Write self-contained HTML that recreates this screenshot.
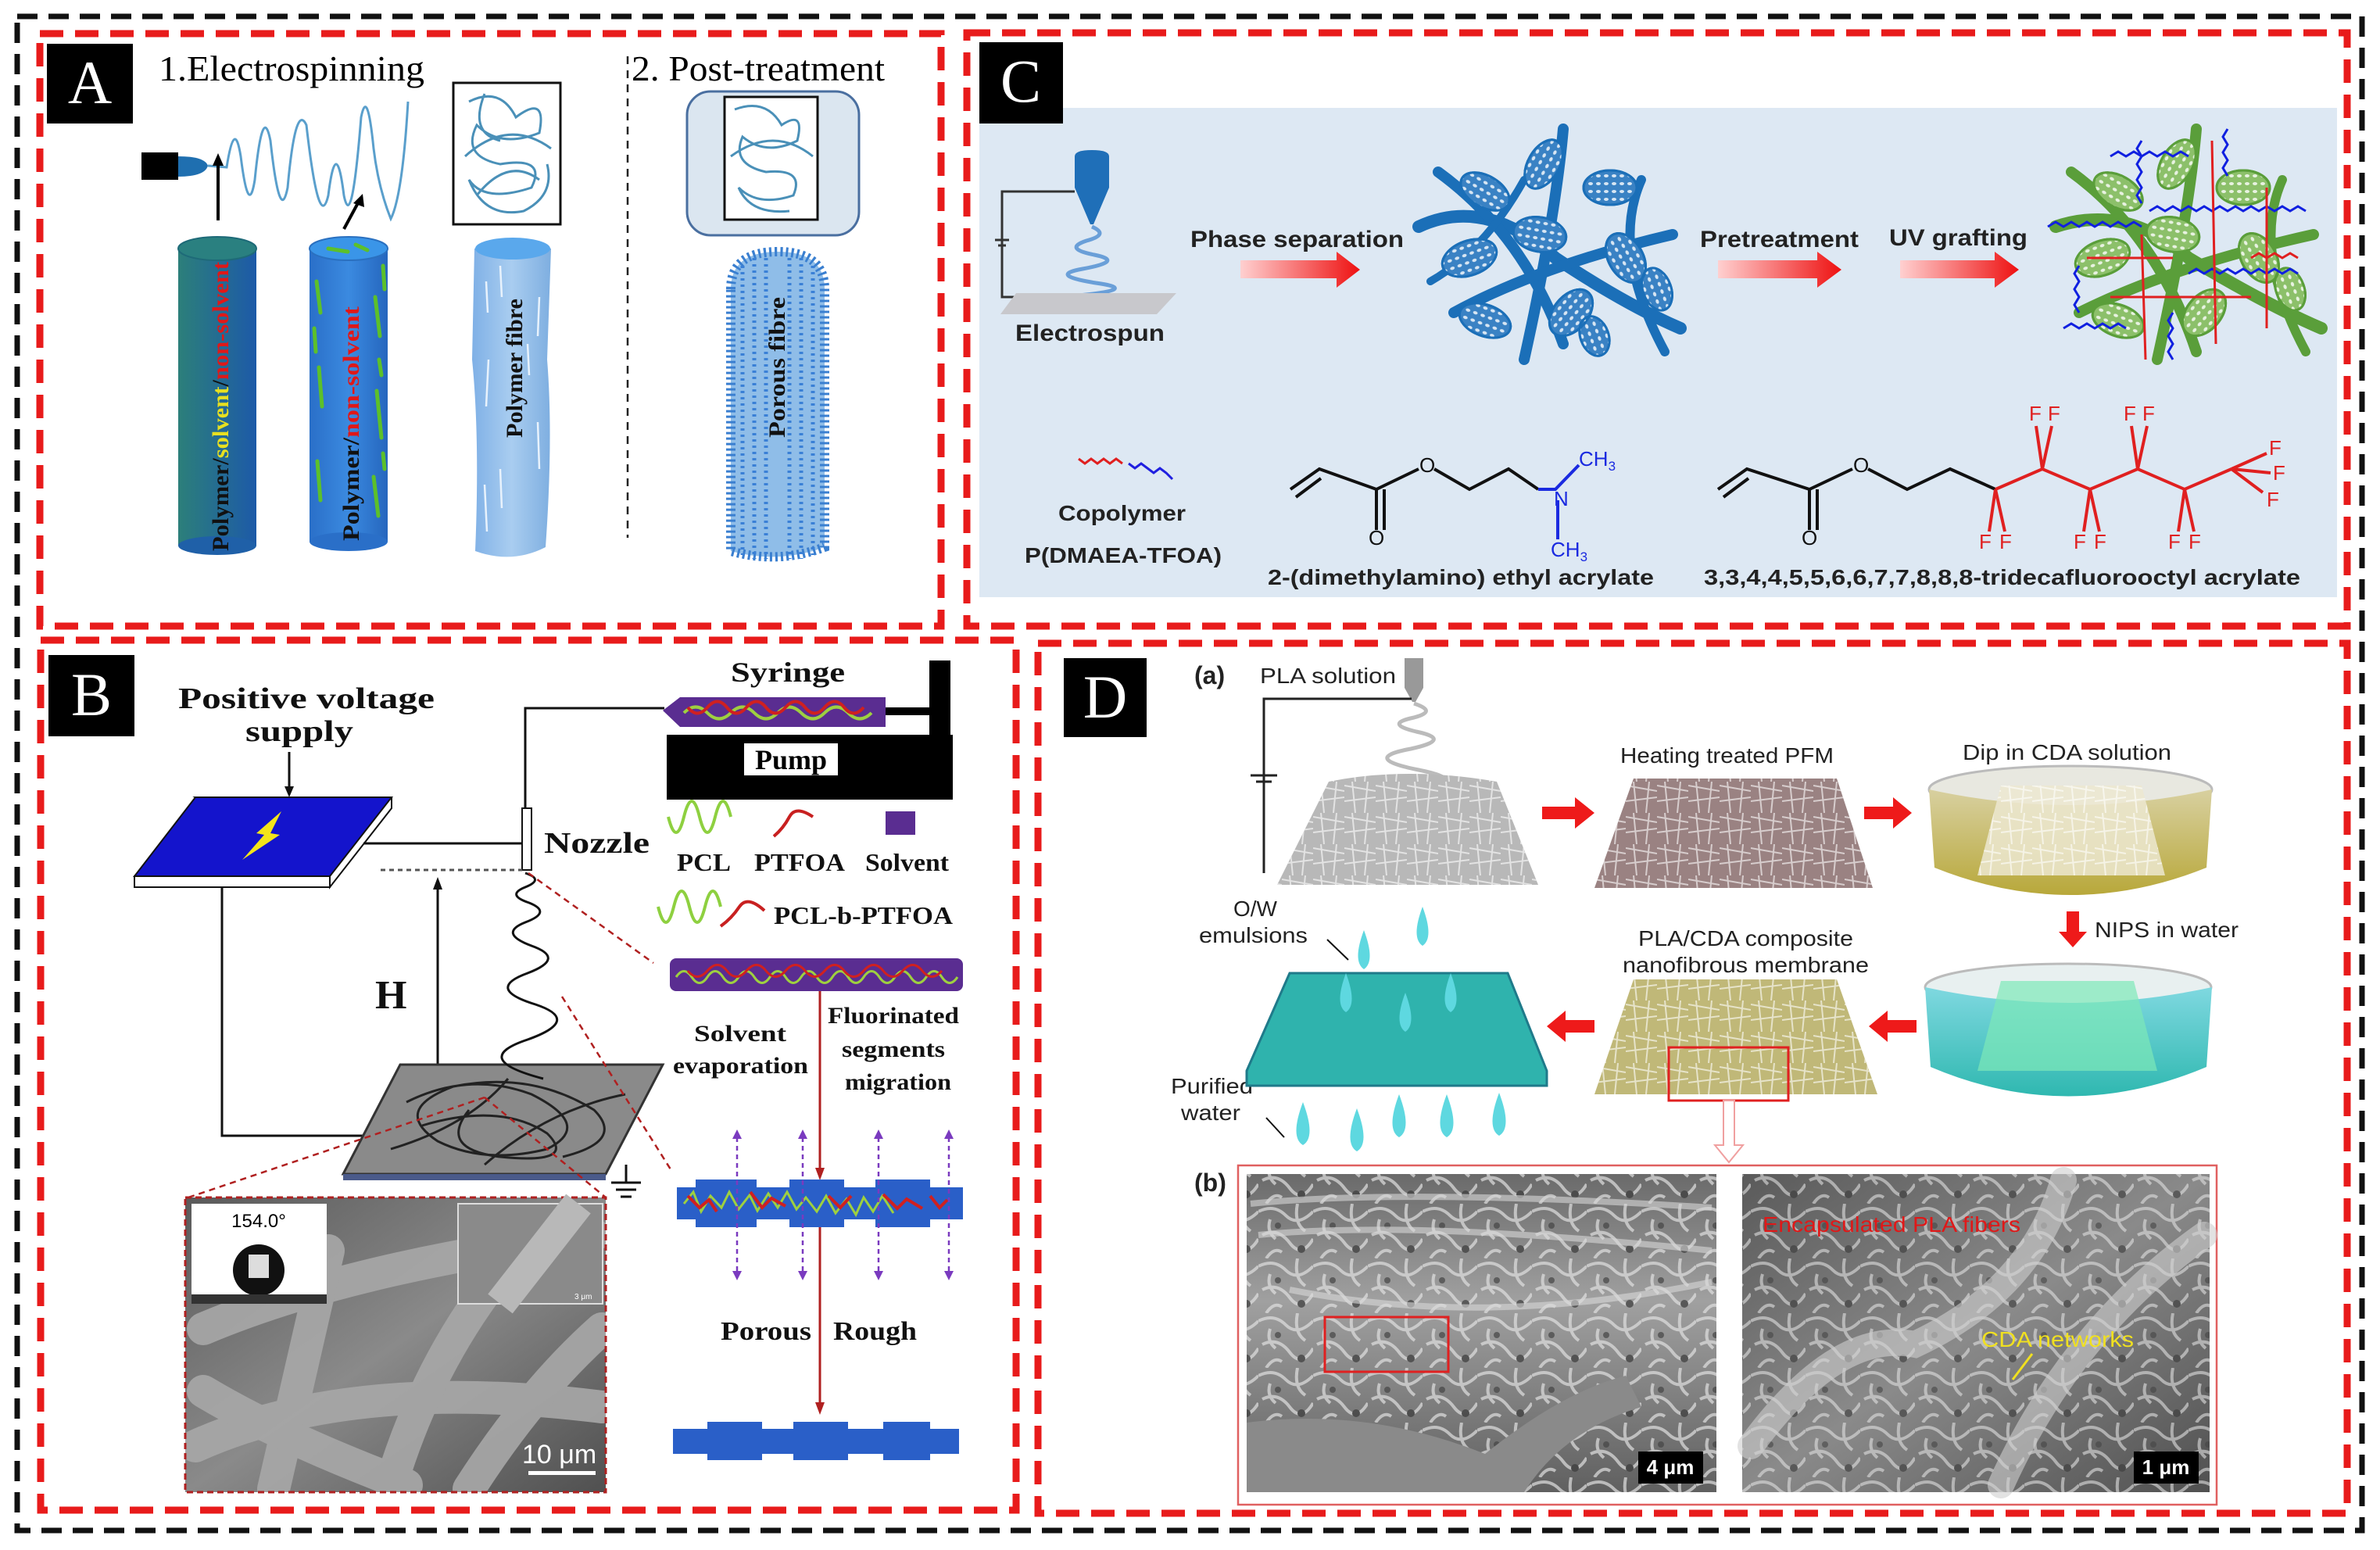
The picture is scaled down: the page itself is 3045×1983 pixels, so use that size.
<!DOCTYPE html>
<html><head><meta charset="utf-8"><style>html,body{margin:0;padding:0;background:#fff}svg{display:block}</style></head><body>
<svg width="3045" height="1983" viewBox="0 0 3045 1983" xmlns="http://www.w3.org/2000/svg">
<defs>
<linearGradient id="cyl1" x1="0" x2="1"><stop offset="0" stop-color="#2c7f7a"/><stop offset="1" stop-color="#1d5aa8"/></linearGradient>
<linearGradient id="cyl2" x1="0" x2="1"><stop offset="0" stop-color="#2a6fc8"/><stop offset="0.5" stop-color="#3b8ae0"/><stop offset="1" stop-color="#2566be"/></linearGradient>
<linearGradient id="cyl3" x1="0" x2="1"><stop offset="0" stop-color="#7fb0e6"/><stop offset="0.5" stop-color="#a9cdf0"/><stop offset="1" stop-color="#7eaee0"/></linearGradient>
<linearGradient id="rarr" x1="0" x2="1"><stop offset="0" stop-color="#ffd0d0"/><stop offset="1" stop-color="#ee1111"/></linearGradient>
<linearGradient id="sem" x1="0" y1="0" x2="1" y2="1"><stop offset="0" stop-color="#5a5a5a"/><stop offset="0.5" stop-color="#8a8a8a"/><stop offset="1" stop-color="#505050"/></linearGradient>
<linearGradient id="sem2" x1="0" y1="0" x2="0" y2="1"><stop offset="0" stop-color="#6a6a6a"/><stop offset="0.4" stop-color="#a0a0a0"/><stop offset="1" stop-color="#606060"/></linearGradient>
<linearGradient id="dishY" x1="0" y1="0" x2="0" y2="1"><stop offset="0" stop-color="#d8d0a0"/><stop offset="1" stop-color="#b8a83a"/></linearGradient>
<linearGradient id="dishT" x1="0" y1="0" x2="0" y2="1"><stop offset="0" stop-color="#7fd8e0"/><stop offset="1" stop-color="#2fb8b0"/></linearGradient>
<pattern id="tex" width="70" height="70" patternUnits="userSpaceOnUse">
<path d="M0 10 Q20 0 35 15 T70 10 M5 40 Q25 30 40 50 T70 45 M10 70 Q20 55 30 62 M50 0 Q45 25 60 35 M15 20 Q10 35 22 45" fill="none" stroke="#e0e0e0" stroke-width="4"/>
<circle cx="55" cy="58" r="5" fill="#3a3a3a"/><circle cx="25" cy="28" r="4" fill="#444"/>
</pattern>
<pattern id="dots" width="10" height="10" patternUnits="userSpaceOnUse"><ellipse cx="5" cy="5" rx="3" ry="2" fill="#fff" opacity="0.8"/></pattern>
<pattern id="fib" width="40" height="40" patternUnits="userSpaceOnUse"><path d="M0 5 L40 12 M0 25 L40 20 M10 0 L14 40 M30 0 L26 40" stroke="#fff" stroke-width="2" opacity="0.6"/></pattern>
<clipPath id="clipB"><rect x="237" y="1532" width="538" height="377"/></clipPath>
</defs>
<rect width="3045" height="1983" fill="#fff"/>

<rect x="22" y="21" width="3000" height="1937" fill="none" stroke="#111" stroke-width="7" stroke-dasharray="26 14"/>
<g fill="none" stroke="#e81b1b" stroke-width="9" stroke-dasharray="30 15">
<rect x="51" y="43" width="1153" height="758"/>
<rect x="1237" y="42" width="1766" height="759"/>
<rect x="52" y="819" width="1248" height="1113"/>
<rect x="1328" y="823" width="1675" height="1113"/>
</g>

<!-- ===== Panel A ===== -->
<rect x="60" y="56" width="110" height="102" fill="#000"/>
<text x="115" y="132" font-family="Liberation Serif, serif" font-size="78" fill="#fff" text-anchor="middle">A</text>
<text x="203" y="103" font-family="Liberation Serif, serif" font-size="46" textLength="340" lengthAdjust="spacingAndGlyphs">1.Electrospinning</text>
<text x="808" y="103" font-family="Liberation Serif, serif" font-size="46" textLength="324" lengthAdjust="spacingAndGlyphs">2. Post-treatment</text>
<line x1="803" y1="72" x2="803" y2="688" stroke="#222" stroke-width="2.5" stroke-dasharray="10 8"/>
<rect x="181" y="195" width="47" height="35" fill="#000"/>
<path d="M228 200 Q262 200 266 212 Q262 226 228 226Z" fill="#1f6fb0"/>
<path d="M266 212 L290 214 Q300 150 308 200 Q318 280 326 230 Q336 130 346 180 Q358 290 368 240 Q378 130 392 160 Q408 300 420 250 Q430 170 440 250 Q450 300 462 150 Q470 110 478 190 Q484 240 500 280 Q515 250 522 130" fill="none" stroke="#5a9fcc" stroke-width="3"/>
<line x1="279" y1="282" x2="279" y2="205" stroke="#000" stroke-width="4"/>
<path d="M279 196 L272 212 L286 212Z" fill="#000"/>
<line x1="440" y1="293" x2="460" y2="256" stroke="#000" stroke-width="4"/>
<path d="M464 248 L452 260 L466 265Z" fill="#000"/>
<rect x="580" y="106" width="137" height="181" fill="#fff" stroke="#111" stroke-width="3"/>
<path d="M600 130 Q640 110 660 150 Q700 120 690 170 Q640 190 610 160 Q590 200 640 210 Q700 200 680 240 Q620 260 600 230 Q620 280 670 270 Q710 250 700 210 M610 250 Q650 200 690 230 M595 200 Q650 150 705 190 M620 120 Q600 170 640 180" fill="none" stroke="#4a90b8" stroke-width="3"/>
<rect x="228" y="318" width="100" height="380" fill="url(#cyl1)"/>
<ellipse cx="278" cy="318" rx="50" ry="15" fill="#2a8080" stroke="#1e6a78" stroke-width="2"/>
<ellipse cx="278" cy="698" rx="50" ry="12" fill="#1f60a8"/>
<text transform="translate(292 705) rotate(-90)" font-family="Liberation Serif, serif" font-weight="bold" font-size="30" textLength="370" lengthAdjust="spacingAndGlyphs"><tspan fill="#111">Polymer/</tspan><tspan fill="#e8e020">solvent</tspan><tspan fill="#111">/</tspan><tspan fill="#e01818">non-solvent</tspan></text>
<rect x="396" y="318" width="100" height="375" fill="url(#cyl2)"/>
<ellipse cx="446" cy="318" rx="50" ry="15" fill="#3a95e8" stroke="#2a70c0" stroke-width="2"/>
<ellipse cx="446" cy="693" rx="50" ry="12" fill="#2a6fc8"/>
<g stroke="#5cc02a" stroke-width="5" stroke-linecap="round">
<line x1="405" y1="360" x2="410" y2="400"/><line x1="480" y1="380" x2="486" y2="430"/><line x1="408" y1="470" x2="412" y2="520"/><line x1="482" y1="500" x2="488" y2="560"/><line x1="406" y1="590" x2="410" y2="640"/><line x1="478" y1="610" x2="484" y2="660"/><line x1="420" y1="318" x2="445" y2="322"/><line x1="455" y1="313" x2="470" y2="320"/><line x1="490" y1="340" x2="492" y2="370"/><line x1="402" y1="420" x2="404" y2="450"/><line x1="485" y1="460" x2="488" y2="480"/><line x1="490" y1="580" x2="492" y2="600"/></g>
<text transform="translate(459 692) rotate(-90)" font-family="Liberation Serif, serif" font-weight="bold" font-size="30" textLength="300" lengthAdjust="spacingAndGlyphs"><tspan fill="#111">Polymer/</tspan><tspan fill="#e01818">non-solvent</tspan></text>
<path d="M607 318 Q655 300 705 318 L700 460 Q708 560 698 700 Q655 722 608 705 Q614 560 604 460Z" fill="url(#cyl3)"/>
<ellipse cx="656" cy="318" rx="48" ry="14" fill="#5aa8ec"/>
<g stroke="#e8f2fc" stroke-width="2.5"><line x1="622" y1="360" x2="624" y2="400"/><line x1="690" y1="380" x2="688" y2="430"/><line x1="625" y1="460" x2="622" y2="520"/><line x1="688" y1="540" x2="690" y2="600"/><line x1="620" y1="620" x2="623" y2="680"/><line x1="640" y1="340" x2="642" y2="380"/><line x1="675" y1="440" x2="677" y2="480"/><line x1="640" y1="600" x2="642" y2="650"/></g>
<text transform="translate(668 560) rotate(-90)" font-family="Liberation Serif, serif" font-weight="bold" font-size="30" textLength="178" lengthAdjust="spacingAndGlyphs" fill="#111">Polymer fibre</text>
<rect x="879" y="117" width="220" height="184" rx="30" fill="#dbe6f0" stroke="#4a6fa0" stroke-width="3"/>
<rect x="927" y="124" width="119" height="157" fill="#fff" stroke="#111" stroke-width="3"/>
<path d="M940 140 Q980 125 1000 160 Q1030 140 1020 180 Q980 200 950 175 Q935 210 980 220 Q1030 215 1015 250 Q970 265 945 240 Q960 275 1010 270 M935 200 Q990 160 1040 200" fill="none" stroke="#4a90b8" stroke-width="3"/>
<path d="M935 370 Q935 322 995 322 Q1055 322 1055 370 L1055 700 Q995 722 935 705Z" fill="#8fbde8" stroke="#3a7fd0" stroke-width="12" stroke-dasharray="3 4"/>
<g stroke="#3a80d6" stroke-width="5" stroke-dasharray="3 5"><line x1="950" y1="340" x2="950" y2="710"/><line x1="965" y1="330" x2="965" y2="715"/><line x1="980" y1="330" x2="980" y2="715"/><line x1="1010" y1="330" x2="1010" y2="715"/><line x1="1025" y1="330" x2="1025" y2="715"/><line x1="1040" y1="340" x2="1040" y2="710"/></g>
<text transform="translate(1004 560) rotate(-90)" font-family="Liberation Serif, serif" font-weight="bold" font-size="30" textLength="180" lengthAdjust="spacingAndGlyphs" fill="#111">Porous fibre</text>

<!-- ===== Panel C ===== -->
<rect x="1253" y="138" width="1737" height="626" fill="#dde8f3"/>
<rect x="1253" y="54" width="107" height="104" fill="#000"/>
<text x="1306" y="130" font-family="Liberation Serif, serif" font-size="78" fill="#fff" text-anchor="middle">C</text>
<path d="M1375 200 Q1375 192 1397 192 Q1419 192 1419 200 L1419 240 L1399 287 L1395 287 L1375 240Z" fill="#1f6fb8"/>
<polyline points="1375,245 1282,245 1282,380 1300,380" fill="none" stroke="#333" stroke-width="3"/>
<line x1="1273" y1="307" x2="1291" y2="307" stroke="#333" stroke-width="3"/><line x1="1277" y1="314" x2="1287" y2="314" stroke="#333" stroke-width="3"/>
<path d="M1397 290 Q1420 300 1390 308 Q1360 318 1400 326 Q1440 334 1385 344 Q1340 352 1402 362 Q1460 370 1380 378" fill="none" stroke="#6a9fd8" stroke-width="5"/>
<path d="M1300 375 L1505 375 L1480 402 L1280 402Z" fill="#c8c8cc"/>
<text x="1299" y="436" font-family="Liberation Sans, sans-serif" font-weight="bold" font-size="30" fill="#222" textLength="191" lengthAdjust="spacingAndGlyphs">Electrospun</text>
<text x="1523" y="316" font-family="Liberation Sans, sans-serif" font-weight="bold" font-size="30" fill="#222" textLength="273" lengthAdjust="spacingAndGlyphs">Phase separation</text>
<text x="2175" y="316" font-family="Liberation Sans, sans-serif" font-weight="bold" font-size="30" fill="#222" textLength="203" lengthAdjust="spacingAndGlyphs">Pretreatment</text>
<text x="2417" y="314" font-family="Liberation Sans, sans-serif" font-weight="bold" font-size="30" fill="#222" textLength="177" lengthAdjust="spacingAndGlyphs">UV grafting</text>
<g fill="url(#rarr)">
<path d="M1587 333 L1710 333 L1710 322 L1740 345 L1710 368 L1710 356 L1587 356Z"/>
<path d="M2198 333 L2325 333 L2325 322 L2356 345 L2325 368 L2325 356 L2198 356Z"/>
<path d="M2431 333 L2552 333 L2552 322 L2583 345 L2552 368 L2552 356 L2431 356Z"/>
</g>
<g stroke="#1b6fb8" stroke-linecap="round" fill="none">
<path d="M1815 290 Q1900 250 1990 330 Q2080 390 2150 420" stroke-width="16"/>
<path d="M1840 220 Q1950 300 2000 440" stroke-width="14"/>
<path d="M2000 165 Q1990 280 1950 460" stroke-width="14"/>
<path d="M1860 400 Q1970 340 2140 300" stroke-width="14"/>
<path d="M2100 230 Q2060 320 2130 450" stroke-width="12"/>
<path d="M1830 360 Q1900 320 1950 230" stroke-width="10"/>
</g>
<g stroke="#1b6fb8" stroke-width="3">
<g fill="#3a82c4">
<ellipse cx="1900" cy="245" rx="34" ry="20" transform="rotate(30 1900 245)"/>
<ellipse cx="1975" cy="210" rx="34" ry="20" transform="rotate(-60 1975 210)"/>
<ellipse cx="2060" cy="240" rx="34" ry="22"/>
<ellipse cx="1880" cy="330" rx="36" ry="22" transform="rotate(-20 1880 330)"/>
<ellipse cx="1970" cy="300" rx="34" ry="22" transform="rotate(10 1970 300)"/>
<ellipse cx="2080" cy="330" rx="34" ry="22" transform="rotate(60 2080 330)"/>
<ellipse cx="1900" cy="410" rx="34" ry="20" transform="rotate(20 1900 410)"/>
<ellipse cx="2010" cy="400" rx="34" ry="22" transform="rotate(-50 2010 400)"/>
<ellipse cx="2120" cy="370" rx="28" ry="18" transform="rotate(70 2120 370)"/>
<ellipse cx="2040" cy="430" rx="26" ry="18" transform="rotate(70 2040 430)"/>
</g>
<g fill="url(#dots)">
<ellipse cx="1900" cy="245" rx="34" ry="20" transform="rotate(30 1900 245)"/>
<ellipse cx="1975" cy="210" rx="34" ry="20" transform="rotate(-60 1975 210)"/>
<ellipse cx="2060" cy="240" rx="34" ry="22"/>
<ellipse cx="1880" cy="330" rx="36" ry="22" transform="rotate(-20 1880 330)"/>
<ellipse cx="1970" cy="300" rx="34" ry="22" transform="rotate(10 1970 300)"/>
<ellipse cx="2080" cy="330" rx="34" ry="22" transform="rotate(60 2080 330)"/>
<ellipse cx="1900" cy="410" rx="34" ry="20" transform="rotate(20 1900 410)"/>
<ellipse cx="2010" cy="400" rx="34" ry="22" transform="rotate(-50 2010 400)"/>
<ellipse cx="2120" cy="370" rx="28" ry="18" transform="rotate(70 2120 370)"/>
<ellipse cx="2040" cy="430" rx="26" ry="18" transform="rotate(70 2040 430)"/>
</g></g>
<g stroke="#5a9e3a" stroke-linecap="round" fill="none">
<path d="M2630 290 Q2720 260 2800 330 Q2900 390 2970 420" stroke-width="16"/>
<path d="M2650 220 Q2760 300 2810 450" stroke-width="14"/>
<path d="M2810 165 Q2800 280 2760 460" stroke-width="14"/>
<path d="M2660 400 Q2780 340 2960 300" stroke-width="14"/>
<path d="M2920 230 Q2880 320 2950 450" stroke-width="12"/>
</g>
<g stroke="#5a9e3a" stroke-width="3">
<g fill="#8cc06a">
<ellipse cx="2710" cy="245" rx="34" ry="20" transform="rotate(30 2710 245)"/>
<ellipse cx="2785" cy="210" rx="34" ry="20" transform="rotate(-60 2785 210)"/>
<ellipse cx="2870" cy="240" rx="34" ry="22"/>
<ellipse cx="2690" cy="330" rx="36" ry="22" transform="rotate(-20 2690 330)"/>
<ellipse cx="2780" cy="300" rx="34" ry="22" transform="rotate(10 2780 300)"/>
<ellipse cx="2890" cy="330" rx="34" ry="22" transform="rotate(60 2890 330)"/>
<ellipse cx="2710" cy="410" rx="34" ry="20" transform="rotate(20 2710 410)"/>
<ellipse cx="2820" cy="400" rx="34" ry="22" transform="rotate(-50 2820 400)"/>
<ellipse cx="2930" cy="370" rx="28" ry="18" transform="rotate(70 2930 370)"/>
</g>
<g fill="url(#dots)">
<ellipse cx="2710" cy="245" rx="34" ry="20" transform="rotate(30 2710 245)"/>
<ellipse cx="2785" cy="210" rx="34" ry="20" transform="rotate(-60 2785 210)"/>
<ellipse cx="2870" cy="240" rx="34" ry="22"/>
<ellipse cx="2690" cy="330" rx="36" ry="22" transform="rotate(-20 2690 330)"/>
<ellipse cx="2780" cy="300" rx="34" ry="22" transform="rotate(10 2780 300)"/>
<ellipse cx="2890" cy="330" rx="34" ry="22" transform="rotate(60 2890 330)"/>
<ellipse cx="2710" cy="410" rx="34" ry="20" transform="rotate(20 2710 410)"/>
<ellipse cx="2820" cy="400" rx="34" ry="22" transform="rotate(-50 2820 400)"/>
<ellipse cx="2930" cy="370" rx="28" ry="18" transform="rotate(70 2930 370)"/>
</g></g>
<g fill="none" stroke-width="3">
<path d="M2620 290 l10 -6 l10 6 l10 -6 l10 6 l10 -6 l10 6 l10 -6 l10 6 l10 -6 l10 6 l10 -6 l10 6" stroke="#1020e0"/>
<path d="M2750 270 l10 -6 l10 6 l10 -6 l10 6 l10 -6 l10 6 l10 -6 l10 6 l10 -6 l10 6 l10 -6 l10 6 l10 -6 l10 6 l10 -6 l10 6 l10 -6 l10 6 l10 -6 l10 6" stroke="#1020e0"/>
<path d="M2640 420 l10 -6 l10 6 l10 -6 l10 6 l10 -6 l10 6 l10 -6 l10 6" stroke="#1020e0"/>
<path d="M2800 350 l10 -6 l10 6 l10 -6 l10 6 l10 -6 l10 6 l10 -6 l10 6 l10 -6 l10 6 l10 -6 l10 6 l10 -6 l10 6" stroke="#1020e0"/>
<path d="M2700 200 l10 -6 l10 6 l10 -6 l10 6 l10 -6 l10 6 l10 -6 l10 6 l10 -6 l10 6" stroke="#1020e0"/>
<path d="M2880 330 l10 -6 l10 6 l10 -6 l10 6 l10 -6 l10 6" stroke="#e02020"/>
<path d="M2740 300 L2745 460 M2830 180 L2835 440 M2900 240 L2900 420 M2670 330 L2780 330 M2700 380 L2880 380" stroke="#e02020"/>
<path d="M2740 180 l-6 10 l6 10 l-6 10 l6 10 l-6 10 l6 10 l-6 10 l6 10 M2850 165 l-6 10 l6 10 l-6 10 l6 10 l-6 10 l6 10 M2780 400 l-6 10 l6 10 l-6 10 l6 10 l-6 10 l6 10 M2660 340 l-6 10 l6 10 l-6 10 l6 10 l-6 10 l6 10" stroke="#1020e0"/>
</g>
<path d="M1380 587 l8 6 l8 -6 l8 6 l8 -6 l8 6 l8 -6 l8 6" fill="none" stroke="#e02020" stroke-width="3"/>
<path d="M1444 593 l8 6 l8 -6 l8 6 l8 6 l8 -6 l8 6 l8 8" fill="none" stroke="#2020e0" stroke-width="3"/>
<text x="1354" y="666" font-family="Liberation Sans, sans-serif" font-weight="bold" font-size="28" fill="#222" textLength="163" lengthAdjust="spacingAndGlyphs">Copolymer</text>
<text x="1311" y="720" font-family="Liberation Sans, sans-serif" font-weight="bold" font-size="28" fill="#222" textLength="252" lengthAdjust="spacingAndGlyphs">P(DMAEA-TFOA)</text>
<g fill="none" stroke="#111" stroke-width="4">
<path d="M1651 626 L1688 600 L1761 626 L1815 600"/><path d="M1658 636 L1690 612"/>
<path d="M1761 626 L1761 678"/><path d="M1771 626 L1771 678"/>
<path d="M1835 600 L1880 626 L1930 600 L1968 626"/>
<path d="M2198 626 L2235 600 L2315 626 L2370 600"/><path d="M2205 636 L2237 612"/>
<path d="M2315 626 L2315 678"/><path d="M2325 626 L2325 678"/>
<path d="M2390 600 L2440 626 L2495 600 L2553 626"/>
</g>
<g fill="none" stroke="#1a2ae0" stroke-width="4"><path d="M1968 626 L1990 626 L2020 595"/><path d="M1993 640 L1993 690"/></g>
<g fill="none" stroke="#e02020" stroke-width="4">
<path d="M2553 626 L2613 600 L2674 626 L2735 600 L2795 626 L2855 600"/>
<path d="M2553 626 L2545 680 M2553 626 L2565 680 M2613 600 L2605 545 M2613 600 L2625 545 M2674 626 L2666 680 M2674 626 L2686 680 M2735 600 L2727 545 M2735 600 L2747 545 M2795 626 L2787 680 M2795 626 L2807 680 M2855 600 L2900 580 M2855 600 L2905 605 M2855 600 L2895 630"/>
</g>
<g font-family="Liberation Sans, sans-serif" font-size="26">
<text x="1816" y="604" fill="#111">O</text><text x="1751" y="697" fill="#111">O</text>
<text x="1988" y="647" fill="#1a2ae0">N</text>
<text x="2020" y="596" fill="#1a2ae0">CH<tspan font-size="17" dy="6">3</tspan></text>
<text x="1984" y="712" fill="#1a2ae0">CH<tspan font-size="17" dy="6">3</tspan></text>
<text x="2371" y="604" fill="#111">O</text><text x="2305" y="697" fill="#111">O</text>
<g fill="#e02020"><text x="2532" y="702">F</text><text x="2558" y="702">F</text><text x="2596" y="538">F</text><text x="2620" y="538">F</text><text x="2653" y="702">F</text><text x="2679" y="702">F</text><text x="2717" y="538">F</text><text x="2741" y="538">F</text><text x="2774" y="702">F</text><text x="2800" y="702">F</text><text x="2903" y="582">F</text><text x="2908" y="614">F</text><text x="2900" y="648">F</text></g>
</g>
<text x="1622" y="748" font-family="Liberation Sans, sans-serif" font-weight="bold" font-size="28" fill="#222" textLength="494" lengthAdjust="spacingAndGlyphs">2-(dimethylamino) ethyl acrylate</text>
<text x="2180" y="748" font-family="Liberation Sans, sans-serif" font-weight="bold" font-size="28" fill="#222" textLength="763" lengthAdjust="spacingAndGlyphs">3,3,4,4,5,5,6,6,7,7,8,8,8-tridecafluorooctyl acrylate</text>

<!-- ===== Panel B ===== -->
<rect x="62" y="838" width="110" height="104" fill="#000"/>
<text x="117" y="915" font-family="Liberation Serif, serif" font-size="78" fill="#fff" text-anchor="middle">B</text>
<g font-family="Liberation Serif, serif" font-weight="bold" fill="#111">
<text x="228" y="906" font-size="38" textLength="328" lengthAdjust="spacingAndGlyphs">Positive voltage</text>
<text x="314" y="948" font-size="38" textLength="138" lengthAdjust="spacingAndGlyphs">supply</text>
<text x="935" y="872" font-size="36" textLength="146" lengthAdjust="spacingAndGlyphs">Syringe</text>
<text x="696" y="1091" font-size="38" textLength="135" lengthAdjust="spacingAndGlyphs">Nozzle</text>
<text x="866" y="1114" font-size="32" textLength="69" lengthAdjust="spacingAndGlyphs">PCL</text>
<text x="965" y="1114" font-size="32" textLength="116" lengthAdjust="spacingAndGlyphs">PTFOA</text>
<text x="1107" y="1114" font-size="32" textLength="107" lengthAdjust="spacingAndGlyphs">Solvent</text>
<text x="990" y="1182" font-size="32" textLength="229" lengthAdjust="spacingAndGlyphs">PCL-b-PTFOA</text>
<text x="888" y="1332" font-size="30" textLength="118" lengthAdjust="spacingAndGlyphs">Solvent</text>
<text x="861" y="1373" font-size="30" textLength="173" lengthAdjust="spacingAndGlyphs">evaporation</text>
<text x="1059" y="1309" font-size="30" textLength="168" lengthAdjust="spacingAndGlyphs">Fluorinated</text>
<text x="1077" y="1352" font-size="30" textLength="132" lengthAdjust="spacingAndGlyphs">segments</text>
<text x="1081" y="1394" font-size="30" textLength="136" lengthAdjust="spacingAndGlyphs">migration</text>
<text x="922" y="1714" font-size="34" textLength="116" lengthAdjust="spacingAndGlyphs">Porous</text>
<text x="1066" y="1714" font-size="34" textLength="107" lengthAdjust="spacingAndGlyphs">Rough</text>
<text x="480" y="1290" font-size="52">H</text>
</g>
<line x1="370" y1="962" x2="370" y2="1010" stroke="#111" stroke-width="3"/><path d="M370 1020 L364 1006 L376 1006Z" fill="#111"/>
<path d="M172 1121 L422 1121 L422 1135 L172 1135Z" fill="#fff" stroke="#111" stroke-width="2"/>
<path d="M250 1020 L501 1020 L501 1034 L422 1135 L422 1121Z" fill="#fff" stroke="#111" stroke-width="2"/>
<path d="M250 1020 L501 1020 L422 1121 L172 1121Z" fill="#1414cc" stroke="#111" stroke-width="2"/>
<path d="M310 1100 L338 1068 L328 1066 L360 1038 L346 1066 L358 1068 Z" fill="#f4e41a"/>
<g fill="none" stroke="#111" stroke-width="3">
<polyline points="465,1079 668,1079"/>
<polyline points="672,1034 672,906 850,906"/>
<polyline points="284,1135 284,1453 482,1453"/>
<line x1="801" y1="1490" x2="801" y2="1513"/><line x1="782" y1="1513" x2="820" y2="1513"/><line x1="788" y1="1522" x2="814" y2="1522"/><line x1="794" y1="1531" x2="808" y2="1531"/>
</g>
<rect x="668" y="1034" width="12" height="79" fill="#fff" stroke="#111" stroke-width="2"/>
<line x1="487" y1="1113" x2="668" y2="1113" stroke="#555" stroke-width="3" stroke-dasharray="6 5"/>
<line x1="560" y1="1132" x2="560" y2="1370" stroke="#111" stroke-width="3"/>
<path d="M560 1122 L554 1138 L566 1138Z M560 1381 L554 1365 L566 1365Z" fill="#111"/>
<path d="M848 909 L870 892 L1133 892 L1133 930 L870 930Z" fill="#5a2d91"/>
<path d="M875 912 q15 -15 30 0 t30 0 t30 0 t30 0 t30 0 t30 0 t30 0 t30 0" fill="none" stroke="#9ed040" stroke-width="4"/>
<path d="M880 905 q12 15 25 0 t25 0 t25 0 t25 0 t25 0 t25 0 t25 0 t25 0 t25 0" fill="none" stroke="#d02020" stroke-width="4"/>
<rect x="1133" y="905" width="56" height="10" fill="#000"/>
<rect x="1189" y="845" width="27" height="95" fill="#000"/>
<rect x="853" y="940" width="366" height="83" fill="#000"/>
<rect x="952" y="951" width="120" height="41" fill="#fff"/>
<text x="1012" y="984" font-family="Liberation Serif, serif" font-weight="bold" font-size="36" text-anchor="middle">Pump</text>
<path d="M855 1045 q10 40 20 0 t20 0 t20 0 t20 0" fill="none" stroke="#8ed040" stroke-width="4"/>
<path d="M990 1070 q12 -10 20 -25 t30 0" fill="none" stroke="#c82020" stroke-width="4"/>
<rect x="1133" y="1038" width="38" height="30" fill="#5a2d91"/>
<path d="M842 1160 q10 40 20 0 t20 0 t20 0 t20 0" fill="none" stroke="#8ed040" stroke-width="4"/>
<path d="M922 1185 q14 -10 24 -25 t32 5" fill="none" stroke="#c82020" stroke-width="4"/>
<rect x="857" y="1226" width="375" height="42" rx="8" fill="#5a2d91"/>
<path d="M865 1250 q10 -15 20 0 t20 0 t20 0 t20 0 t20 0 t20 0 t20 0 t20 0 t20 0 t20 0 t20 0 t20 0 t20 0 t20 0 t20 0 t20 0 t20 0 t20 0" fill="none" stroke="#9ed040" stroke-width="3"/>
<path d="M880 1242 q12 15 25 0 t25 0 t25 0 t25 0 t25 0 t25 0 t25 0 t25 0 t25 0 t25 0 t25 0 t25 0 t25 0" fill="none" stroke="#d02020" stroke-width="3"/>
<line x1="1049" y1="1268" x2="1049" y2="1500" stroke="#b02020" stroke-width="3"/><path d="M1049 1510 L1043 1494 L1055 1494Z" fill="#b02020"/>
<line x1="1049" y1="1570" x2="1049" y2="1800" stroke="#b02020" stroke-width="3"/><path d="M1049 1810 L1043 1794 L1055 1794Z" fill="#b02020"/>
<path d="M866 1519 L890 1519 L890 1509 L968 1509 L968 1519 L1010 1519 L1010 1509 L1080 1509 L1080 1519 L1120 1519 L1120 1509 L1190 1509 L1190 1519 L1232 1519 L1232 1560 L1190 1560 L1190 1570 L1120 1570 L1120 1560 L1080 1560 L1080 1570 L1010 1570 L1010 1560 L968 1560 L968 1570 L890 1570 L890 1560 L866 1560Z" fill="#2a5fc8"/>
<path d="M875 1540 l12 -15 l10 25 l12 -20 l14 15 l10 -20 l12 22 l14 -18 l10 20 l14 -22 l12 18 l12 -20 l12 22 l12 -15 l14 18 l12 -20 l12 22 l14 -18 l12 20 l10 -22 l12 18 l12 -20 l14 22" fill="none" stroke="#9ed040" stroke-width="3"/>
<path d="M880 1530 l15 15 l12 -10 l10 15 M960 1525 l15 20 l12 -12 l18 10 M1060 1530 l15 15 l14 -15 M1130 1528 l18 18 l12 -12 l20 12 M1190 1530 l12 15 l10 -10" fill="none" stroke="#d02020" stroke-width="4"/>
<g stroke="#7a3abf" stroke-width="2.5" stroke-dasharray="6 5">
<line x1="943" y1="1455" x2="943" y2="1628"/><line x1="1027" y1="1455" x2="1027" y2="1628"/><line x1="1124" y1="1455" x2="1124" y2="1628"/><line x1="1214" y1="1455" x2="1214" y2="1628"/></g>
<g fill="#7a3abf"><path d="M943 1445 l-6 12 h12z M943 1638 l-6 -12 h12z M1027 1445 l-6 12 h12z M1027 1638 l-6 -12 h12z M1124 1445 l-6 12 h12z M1124 1638 l-6 -12 h12z M1214 1445 l-6 12 h12z M1214 1638 l-6 -12 h12z"/></g>
<path d="M861 1828 L905 1828 L905 1819 L975 1819 L975 1828 L1015 1828 L1015 1819 L1085 1819 L1085 1828 L1130 1828 L1130 1819 L1190 1819 L1190 1828 L1227 1828 L1227 1860 L1190 1860 L1190 1868 L1130 1868 L1130 1860 L1085 1860 L1085 1868 L1015 1868 L1015 1860 L975 1860 L975 1868 L905 1868 L905 1860 L861 1860Z" fill="#2a5fc8"/>
<path d="M512 1362 L848 1362 L775 1502 L439 1502Z" fill="#8a8a8a" stroke="#333" stroke-width="3"/>
<path d="M439 1502 L775 1502 L775 1510 L439 1510Z" fill="#4a5a8a"/>
<path d="M672 1117 q25 8 0 18 q-25 10 5 20 q30 12 -5 25 q-35 14 8 30 q45 16 -5 35 q-55 20 10 40 q60 20 -10 45 q-75 25 20 50" fill="none" stroke="#111" stroke-width="3"/>
<path d="M520 1410 Q600 1370 680 1400 Q760 1440 700 1470 Q620 1490 560 1460 Q500 1420 580 1390 Q680 1370 760 1420 Q800 1460 720 1480 M540 1440 Q640 1410 700 1450 Q740 1490 640 1480 Q560 1470 600 1420 M500 1470 Q600 1440 650 1380 M620 1490 Q700 1420 800 1400" fill="none" stroke="#222" stroke-width="3"/>
<g stroke="#b02020" stroke-width="2.5" stroke-dasharray="8 6" fill="none">
<line x1="676" y1="1117" x2="836" y2="1232"/><line x1="719" y1="1275" x2="858" y2="1496"/>
<line x1="620" y1="1404" x2="241" y2="1532"/><line x1="620" y1="1404" x2="775" y2="1532"/>
</g>
<g clip-path="url(#clipB)">
<rect x="237" y="1532" width="538" height="377" fill="url(#sem)"/>
<g stroke="#a8a8a8" stroke-width="42" stroke-linecap="round" fill="none" opacity="0.9">
<path d="M260 1700 Q450 1620 760 1580"/><path d="M350 1905 L420 1600"/><path d="M250 1850 Q450 1760 770 1800"/><path d="M500 1900 Q560 1700 700 1560"/><path d="M260 1780 Q360 1840 520 1900"/><path d="M600 1905 Q680 1780 770 1700"/>
</g>
</g>
<rect x="237" y="1532" width="538" height="377" fill="none" stroke="#b02020" stroke-width="3" stroke-dasharray="8 5"/>
<rect x="245" y="1540" width="173" height="128" fill="#fff"/>
<text x="331" y="1570" font-family="Liberation Sans, sans-serif" font-size="24" text-anchor="middle">154.0°</text>
<circle cx="331" cy="1625" r="33" fill="#111"/><rect x="318" y="1605" width="26" height="30" fill="#ddd"/>
<rect x="245" y="1656" width="173" height="12" fill="#333"/>
<rect x="586" y="1540" width="185" height="128" fill="#8a8a8a" stroke="#ddd" stroke-width="2"/>
<path d="M640 1668 L740 1540" stroke="#b8b8b8" stroke-width="40"/>
<text x="735" y="1662" font-family="Liberation Sans, sans-serif" font-size="10" fill="#fff">3 μm</text>
<text x="668" y="1872" font-family="Liberation Sans, sans-serif" font-size="34" fill="#fff">10 μm</text>
<rect x="676" y="1882" width="86" height="5" fill="#fff"/>

<!-- ===== Panel D ===== -->
<rect x="1361" y="842" width="106" height="101" fill="#000"/>
<text x="1414" y="918" font-family="Liberation Serif, serif" font-size="78" fill="#fff" text-anchor="middle">D</text>
<g font-family="Liberation Sans, sans-serif" fill="#222">
<text x="1528" y="875" font-size="32" font-weight="bold">(a)</text>
<text x="1528" y="1524" font-size="32" font-weight="bold">(b)</text>
<text x="1612" y="874" font-size="28" textLength="174" lengthAdjust="spacingAndGlyphs">PLA solution</text>
<text x="2073" y="976" font-size="28" textLength="273" lengthAdjust="spacingAndGlyphs">Heating treated PFM</text>
<text x="2511" y="972" font-size="28" textLength="267" lengthAdjust="spacingAndGlyphs">Dip in CDA solution</text>
<text x="2680" y="1199" font-size="28" textLength="184" lengthAdjust="spacingAndGlyphs">NIPS in water</text>
<text x="2096" y="1210" font-size="28" textLength="275" lengthAdjust="spacingAndGlyphs">PLA/CDA composite</text>
<text x="2076" y="1244" font-size="28" textLength="315" lengthAdjust="spacingAndGlyphs">nanofibrous membrane</text>
<text x="1578" y="1172" font-size="28" textLength="56" lengthAdjust="spacingAndGlyphs">O/W</text>
<text x="1534" y="1206" font-size="28" textLength="139" lengthAdjust="spacingAndGlyphs">emulsions</text>
<text x="1498" y="1399" font-size="28" textLength="105" lengthAdjust="spacingAndGlyphs">Purified</text>
<text x="1511" y="1433" font-size="28" textLength="76" lengthAdjust="spacingAndGlyphs">water</text>
</g>
<path d="M1797 842 L1821 842 L1821 880 L1811 898 L1807 898 L1797 880Z" fill="#999"/>
<polyline points="1806,894 1617,894 1617,1117" fill="none" stroke="#222" stroke-width="3"/>
<line x1="1600" y1="992" x2="1634" y2="992" stroke="#222" stroke-width="3"/><line x1="1607" y1="1000" x2="1627" y2="1000" stroke="#222" stroke-width="3"/>
<path d="M1809 900 Q1840 910 1809 918 Q1770 926 1812 936 Q1860 946 1805 958 Q1740 970 1815 985 Q1890 1000 1800 1012" fill="none" stroke="#bbb" stroke-width="5"/>
<path d="M1700 1000 Q1800 980 1915 1000 L1968 1132 L1634 1132Z" fill="#b8b8b8"/>
<path d="M1700 1000 Q1800 980 1915 1000 L1968 1132 L1634 1132Z" fill="url(#fib)"/>
<path d="M2090 996 L2350 996 L2396 1136 L2040 1136Z" fill="#9a8282"/>
<path d="M2090 996 L2350 996 L2396 1136 L2040 1136Z" fill="url(#fib)"/>
<g fill="#ee1a1a">
<path d="M1973 1032 L2015 1032 L2015 1020 L2040 1040 L2015 1060 L2015 1048 L1973 1048Z"/>
<path d="M2385 1032 L2422 1032 L2422 1020 L2446 1040 L2422 1060 L2422 1048 L2385 1048Z"/>
<path d="M2644 1166 L2660 1166 L2660 1192 L2670 1192 L2652 1212 L2634 1192 L2644 1192Z"/>
<path d="M2452 1305 L2415 1305 L2415 1293 L2391 1313 L2415 1333 L2415 1321 L2452 1321Z"/>
<path d="M2040 1305 L2003 1305 L2003 1293 L1979 1313 L2003 1333 L2003 1321 L2040 1321Z"/>
</g>
<ellipse cx="2649" cy="1010" rx="181" ry="30" fill="#e8e8e0" stroke="#bbb" stroke-width="3"/>
<path d="M2468 1010 L2475 1110 Q2649 1180 2823 1110 L2830 1010 Q2649 1050 2468 1010Z" fill="url(#dishY)"/>
<path d="M2560 1005 L2740 1005 L2770 1120 L2530 1120Z" fill="#ece8d0" opacity="0.85"/>
<path d="M2560 1005 L2740 1005 L2770 1120 L2530 1120Z" fill="url(#fib)"/>
<ellipse cx="2646" cy="1263" rx="183" ry="30" fill="#e8f0f0" stroke="#bbb" stroke-width="3"/>
<path d="M2463 1263 L2470 1365 Q2646 1440 2823 1365 L2830 1263 Q2646 1303 2463 1263Z" fill="url(#dishT)"/>
<path d="M2560 1255 L2730 1255 L2760 1370 L2530 1370Z" fill="#7ee8b8" opacity="0.7"/>
<path d="M2090 1253 L2350 1253 L2402 1400 L2040 1400Z" fill="#c0b878"/>
<path d="M2090 1253 L2350 1253 L2402 1400 L2040 1400Z" fill="url(#fib)"/>
<rect x="2135" y="1340" width="153" height="68" fill="none" stroke="#e02020" stroke-width="3"/>
<path d="M1650 1245 L1929 1245 L1979 1370 L1979 1389 L1595 1389 L1595 1370Z" fill="#2fb3ad" stroke="#1f7a8a" stroke-width="3"/>
<g fill="#5ed8e0">
<path d="M1745 1190 Q1730 1230 1745 1240 Q1760 1230 1745 1190Z"/>
<path d="M1820 1160 Q1805 1200 1820 1210 Q1835 1200 1820 1160Z"/>
<path d="M1856 1245 Q1841 1285 1856 1295 Q1871 1285 1856 1245Z"/>
<path d="M1798 1270 Q1783 1310 1798 1320 Q1813 1310 1798 1270Z"/>
<path d="M1722 1245 Q1707 1285 1722 1295 Q1737 1285 1722 1245Z"/>
<path d="M1667 1410 Q1650 1455 1667 1465 Q1684 1455 1667 1410Z"/>
<path d="M1736 1418 Q1719 1463 1736 1473 Q1753 1463 1736 1418Z"/>
<path d="M1790 1400 Q1773 1445 1790 1455 Q1807 1445 1790 1400Z"/>
<path d="M1851 1400 Q1834 1445 1851 1455 Q1868 1445 1851 1400Z"/>
<path d="M1918 1398 Q1901 1443 1918 1453 Q1935 1443 1918 1398Z"/>
</g>
<line x1="1698" y1="1202" x2="1725" y2="1228" stroke="#111" stroke-width="2"/>
<line x1="1620" y1="1430" x2="1643" y2="1455" stroke="#111" stroke-width="2"/>
<path d="M2205 1408 L2219 1408 L2219 1465 L2230 1465 L2212 1487 L2194 1465 L2205 1465Z" fill="#fff" stroke="#f0a0a0" stroke-width="2"/>
<rect x="1584" y="1491" width="1252" height="434" fill="none" stroke="#e06060" stroke-width="2.5"/>
<rect x="1595" y="1502" width="601" height="407" fill="url(#sem2)"/>
<rect x="1595" y="1502" width="601" height="407" fill="url(#tex)" opacity="0.7"/>
<g stroke="#d8d8d8" stroke-width="8" fill="none" opacity="0.6">
<path d="M1600 1540 Q1800 1520 2190 1545"/><path d="M1610 1580 Q1800 1560 2190 1600"/><path d="M1650 1650 Q1900 1700 2190 1640"/></g>
<path d="M1595 1820 Q1750 1800 1900 1860 Q2000 1780 2080 1760 L2100 1800 Q2000 1830 1950 1909 L1595 1909Z" fill="#8a8a8a"/>
<rect x="1695" y="1685" width="158" height="70" fill="none" stroke="#e02020" stroke-width="3"/>
<rect x="2229" y="1502" width="598" height="407" fill="url(#sem)"/>
<rect x="2229" y="1502" width="598" height="407" fill="url(#tex)" opacity="0.6"/>
<g stroke="#cfcfcf" stroke-width="34" fill="none" opacity="0.6" stroke-linecap="round">
<path d="M2240 1850 Q2350 1700 2450 1720 Q2600 1650 2640 1510"/><path d="M2560 1900 Q2650 1700 2820 1580"/></g>
<text x="2255" y="1576" font-family="Liberation Sans, sans-serif" font-size="28" fill="#e01818" textLength="330" lengthAdjust="spacingAndGlyphs">Encapsulated PLA fibers</text>
<text x="2535" y="1723" font-family="Liberation Sans, sans-serif" font-size="28" fill="#f0e020" textLength="195" lengthAdjust="spacingAndGlyphs">CDA networks</text>
<line x1="2600" y1="1732" x2="2575" y2="1765" stroke="#f0e020" stroke-width="3"/>
<rect x="2096" y="1857" width="83" height="41" fill="#000"/>
<text x="2137" y="1886" font-family="Liberation Sans, sans-serif" font-weight="bold" font-size="26" fill="#fff" text-anchor="middle">4 μm</text>
<rect x="2730" y="1857" width="83" height="41" fill="#000"/>
<text x="2771" y="1886" font-family="Liberation Sans, sans-serif" font-weight="bold" font-size="26" fill="#fff" text-anchor="middle">1 μm</text>
</svg>
</body></html>
